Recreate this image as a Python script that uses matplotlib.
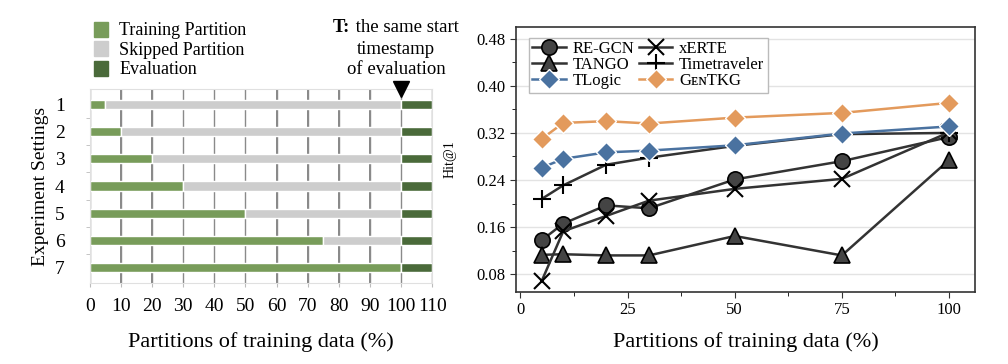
import numpy as np
import matplotlib
matplotlib.use('Agg')
import matplotlib.pyplot as plt
from matplotlib.patches import Patch

plt.rcParams['font.family'] = ['Liberation Serif', 'DejaVu Serif']

# left panel data
settings = [1, 2, 3, 4, 5, 6, 7]
train_pct = [5, 10, 20, 30, 50, 75, 100]
eval_start = 100
eval_len = 10

# right panel data
x_pct = [5, 10, 20, 30, 50, 75, 100]
regcn = [0.138, 0.166, 0.197, 0.192, 0.241, 0.272, 0.313]
tango = [0.113, 0.114, 0.112, 0.112, 0.145, 0.112, 0.274]
xerte = [0.069, 0.153, 0.179, 0.205, 0.225, 0.242, 0.321]
timetraveler = [0.208, 0.231, 0.266, 0.278, 0.298, 0.318, 0.320]
tlogic = [0.261, 0.276, 0.287, 0.290, 0.299, 0.319, 0.331]
gentkg = [0.310, 0.337, 0.340, 0.336, 0.346, 0.354, 0.371]

c_train = '#789c5a'
c_skip = '#cdcdcd'
c_eval = '#4a6a3a'
c_blue = '#4a72a0'
c_orange = '#e39a5c'

fig = plt.figure(figsize=(10.08, 3.64), dpi=100)

# ---- left: partition bars
xt = list(range(0, 111, 10))
ax1 = fig.add_axes([0.089, 0.223, 0.340, 0.532])
ax1.set_xlim(0, 110)
ax1.set_ylim(7.55, 0.45)
# vertical grid as thin patches behind the bars
ax1.bar(xt, 7.1, bottom=0.45, width=0.4, color='#8a8a8a', linewidth=0, zorder=1)
ax1.vlines(xt, 0.45, 7.55, colors='#8a8a8a', linewidth=1.0, zorder=1.1)
h = 0.34
for s, t in zip(settings, train_pct):
    ax1.barh(s, t, height=h, left=0, color=c_train, edgecolor='white', linewidth=1, zorder=2)
    ax1.barh(s, eval_start - t, height=h, left=t, color=c_skip, edgecolor='white', linewidth=1, zorder=2)
    ax1.barh(s, eval_len, height=h, left=eval_start, color=c_eval, edgecolor='white', linewidth=1, zorder=2)
ax1.set_xlim(0, 110)
ax1.set_ylim(7.55, 0.45)
ax1.set_xticks(xt)
ax1.set_yticks(settings)
ax1.set_yticks(np.arange(1.5, 7.0, 1), minor=True)
ax1.tick_params(axis='y', which='major', length=0, labelsize=14, pad=18)
ax1.tick_params(axis='y', which='minor', length=3, color='#bbbbbb')
ax1.tick_params(axis='x', length=3, color='#bbbbbb', labelsize=14, pad=8)
for sp in ax1.spines.values():
    sp.set_color('#e0e0e0')
ax1.set_xlabel('Partitions of training data (%)', fontsize=16, labelpad=12)
ax1.set_ylabel('Experiment Settings', fontsize=14)
ax1.plot([eval_start], [0.45], marker='v', color='black', markersize=11, clip_on=False, zorder=5)

handles = [Patch(color=c_train, label='Training Partition'),
           Patch(color=c_skip, label='Skipped Partition'),
           Patch(color=c_eval, label='Evaluation')]
fig.legend(handles=handles, loc='upper left', bbox_to_anchor=(0.077, 0.985), frameon=False,
           fontsize=13, handlelength=0.8, handleheight=0.9, labelspacing=0.1, handletextpad=0.6)

fig.text(350 / 1008, 1 - 28 / 364, 'T:', fontsize=13.5, fontweight='bold', ha='right', va='center')
fig.text(351 / 1008, 1 - 28 / 364, ' the same start', fontsize=13.5, ha='left', va='center')
fig.text(396 / 1008, 1 - 49 / 364, 'timestamp', fontsize=13.5, ha='center', va='center')
fig.text(396 / 1008, 1 - 70 / 364, 'of evaluation', fontsize=13.5, ha='center', va='center')

# ---- right: Hit@1 lines
ax2 = fig.add_axes([0.512, 0.198, 0.455, 0.728])
dark = '#333333'
ax2.plot(x_pct, regcn, '-', color=dark, lw=1.8, marker='o', ms=11, mfc='#444444', mec='black', mew=1.2, label='RE-GCN', zorder=4)
ax2.plot(x_pct, tango, '-', color=dark, lw=1.8, marker='^', ms=11, mfc='#444444', mec='black', mew=1.2, label='TANGO', zorder=4)
ax2.plot(x_pct, tlogic, '-', color=c_blue, lw=1.8, marker='D', ms=10, mfc=c_blue, mec='white', mew=1, label='TLogic', zorder=5)
ax2.plot(x_pct, xerte, '-', color=dark, lw=1.8, marker='x', ms=11, mec='black', mew=1.5, label='xERTE', zorder=4)
ax2.plot(x_pct, timetraveler, '-', color=dark, lw=1.8, marker='+', ms=13, mec='black', mew=1.5, label='Timetraveler', zorder=4)
ax2.plot(x_pct, gentkg, '-', color=c_orange, lw=1.8, marker='D', ms=10, mfc=c_orange, mec='white', mew=1, label='GᴇɴTKG', zorder=5)
ax2.set_xlim(-1, 106)
ax2.set_ylim(0.05, 0.5)
ax2.set_xticks([0, 25, 50, 75, 100])
ax2.set_xticks(np.arange(12.5, 100, 25), minor=True)
ax2.set_yticks([0.08, 0.16, 0.24, 0.32, 0.40, 0.48])
ax2.set_yticks(np.arange(0.12, 0.48, 0.08), minor=True)
ax2.set_yticklabels(['0.08', '0.16', '0.24', '0.32', '0.40', '0.48'])
ax2.grid(axis='y', color='#e3e3e3', linewidth=1, zorder=0)
ax2.tick_params(labelsize=12, length=4, color='#333333')
ax2.tick_params(which='minor', length=3)
for sp in ax2.spines.values():
    sp.set_color('#333333')
    sp.set_linewidth(1.2)
ax2.set_ylabel('Hit@1', fontsize=10, labelpad=14)
ax2.set_xlabel('Partitions of training data (%)', fontsize=16, labelpad=10)
ax2.legend(loc='upper left', ncol=2, fontsize=12, frameon=True, fancybox=False, edgecolor='#bbbbbb',
           framealpha=1, borderpad=0.2, labelspacing=0.0, columnspacing=0.3, handlelength=2.0,
           handletextpad=0.4, bbox_to_anchor=(0.01, 0.99))

fig.savefig('out.png', dpi=100)
